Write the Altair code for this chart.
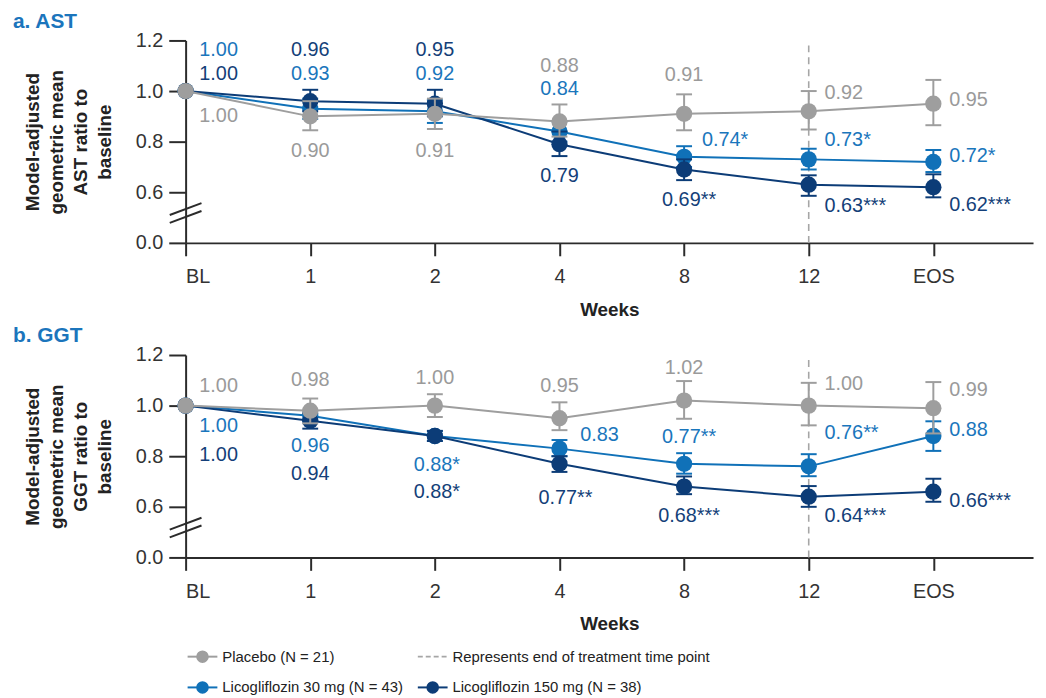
import altair as alt
import pandas as pd

FONT = "Liberation Sans, Arial, Helvetica, sans-serif"

week_labels = ["BL", "1", "2", "4", "8", "12", "EOS"]
series_keys = ["lico30", "lico150", "placebo"]          # drawing order (placebo on top)
series_colors = {"placebo": "#9e9e9e", "lico30": "#1071b8", "lico150": "#0c3c77"}
label_colors = {"placebo": "#9a9a9a", "lico30": "#1a76bc", "lico150": "#143f79"}

# ---------------- a. AST ----------------
ast_vals = {
    "placebo": [1.00, 0.90, 0.91, 0.88, 0.91, 0.92, 0.95],
    "lico30":  [1.00, 0.93, 0.92, 0.84, 0.74, 0.73, 0.72],
    "lico150": [1.00, 0.96, 0.95, 0.79, 0.69, 0.63, 0.62],
}
ast_lo = {
    "placebo": [None, 0.845, 0.85, 0.82, 0.845, 0.848, 0.865],
    "lico30":  [None, 0.89, 0.874, 0.80, 0.70, 0.69, 0.68],
    "lico150": [None, 0.92, 0.90, 0.743, 0.648, 0.586, 0.58],
}
ast_hi = {
    "placebo": [None, 0.96, 0.97, 0.947, 0.987, 1.0, 1.044],
    "lico30":  [None, 0.97, 0.965, 0.88, 0.782, 0.772, 0.767],
    "lico150": [None, 1.005, 1.005, 0.84, 0.73, 0.667, 0.671],
}
ast_text = {
    "placebo": ["1.00", "0.90", "0.91", "0.88", "0.91", "0.92", "0.95"],
    "lico30":  ["1.00", "0.93", "0.92", "0.84", "0.74*", "0.73*", "0.72*"],
    "lico150": ["1.00", "0.96", "0.95", "0.79", "0.69**", "0.63***", "0.62***"],
}

# ---------------- b. GGT ----------------
ggt_vals = {
    "placebo": [1.00, 0.98, 1.00, 0.95, 1.02, 1.00, 0.99],
    "lico30":  [1.00, 0.96, 0.88, 0.83, 0.77, 0.76, 0.88],
    "lico150": [1.00, 0.94, 0.88, 0.77, 0.68, 0.64, 0.66],
}
ggt_lo = {
    "placebo": [None, 0.93, 0.955, 0.903, 0.948, 0.922, 0.89],
    "lico30":  [None, 0.94, 0.86, 0.80, 0.731, 0.721, 0.821],
    "lico150": [None, 0.909, 0.86, 0.738, 0.65, 0.60, 0.62],
}
ggt_hi = {
    "placebo": [None, 1.028, 1.045, 1.013, 1.097, 1.09, 1.093],
    "lico30":  [None, 0.98, 0.90, 0.864, 0.812, 0.808, 0.938],
    "lico150": [None, 0.97, 0.90, 0.80, 0.72, 0.682, 0.711],
}
ggt_text = {
    "placebo": ["1.00", "0.98", "1.00", "0.95", "1.02", "1.00", "0.99"],
    "lico30":  ["1.00", "0.96", "0.88*", "0.83", "0.77**", "0.76**", "0.88"],
    "lico150": ["1.00", "0.94", "0.88*", "0.77**", "0.68***", "0.64***", "0.66***"],
}

legend_texts = ["Placebo (N = 21)", "Represents end of treatment time point",
                "Licogliflozin 30 mg (N = 43)", "Licogliflozin 150 mg (N = 38)"]

# ---------------- label placement (layout only) ----------------
# (label y in data units, x shift in week-index units, alignment)
L, C = "left", "center"
ast_place = {
    "placebo": [(0.90, 0.11, L), (0.763, 0, C), (0.763, 0, C), (1.10, 0, C), (1.065, 0, C), (0.994, 0.127, L), (0.963, 0.127, L)],
    "lico30":  [(1.163, 0.11, L), (1.069, 0, C), (1.069, 0, C), (1.006, 0, C), (0.806, 0.143, L), (0.806, 0.127, L), (0.743, 0.127, L)],
    "lico150": [(1.069, 0.11, L), (1.163, 0, C), (1.163, 0, C), (0.665, 0, C), (0.57, 0.04, C), (0.547, 0.127, L), (0.551, 0.127, L)],
}
ggt_place = {
    "placebo": [(1.078, 0.11, L), (1.10, 0, C), (1.11, 0, C), (1.078, 0, C), (1.147, 0, C), (1.087, 0.127, L), (1.061, 0.127, L)],
    "lico30":  [(0.918, 0.11, L), (0.84, 0, C), (0.764, 0.016, C), (0.883, 0.167, L), (0.874, 0.04, C), (0.892, 0.127, L), (0.905, 0.127, L)],
    "lico150": [(0.805, 0.11, L), (0.728, 0, C), (0.659, 0.016, C), (0.634, 0.048, C), (0.565, 0.04, C), (0.565, 0.127, L), (0.624, 0.127, L)],
}

EOT_INDEX = 5
eot_span = [0.4, 1.18]
break_lo = [0.510, 0.479]
break_hi = [0.557, 0.526]

x_label_expr = "[" + ",".join("'%s'" % w for w in week_labels) + "][datum.value]"
y_label_expr = "datum.value < 0.5 ? '0.0' : format(datum.value, '.1f')"


def build_df(vals, lo, hi, text, place):
    rows = []
    for key in series_keys:
        for i in range(len(week_labels)):
            ly, sx, al = place[key][i]
            rows.append(dict(idx=i, series=key, val=vals[key][i], lo=lo[key][i], hi=hi[key][i],
                             label=text[key][i], lx=i + sx, ly=ly, align=al))
    return pd.DataFrame(rows)


def make_panel(df, ytitle, title):
    x_axis = alt.Axis(values=list(range(7)), labelExpr=x_label_expr, title="Weeks",
                      tickSize=13, labelPadding=11, titlePadding=14)
    y_axis = alt.Axis(values=[0.4, 0.6, 0.8, 1.0, 1.2], labelExpr=y_label_expr, title=ytitle,
                      tickSize=17, labelPadding=6, titlePadding=21)
    xs = alt.Scale(domain=[0, 6.8], nice=False, zero=False)
    ys = alt.Scale(domain=[0.4, 1.2], nice=False, zero=False)

    def X(f):
        return alt.X(f + ":Q", scale=xs, axis=x_axis)

    def Y(f):
        return alt.Y(f + ":Q", scale=ys, axis=y_axis)

    layers = []
    eot = pd.DataFrame({"idx": [EOT_INDEX], "y1": [eot_span[0]], "y2": [eot_span[1]]})
    layers.append(alt.Chart(eot).mark_rule(color="#a6a6a6", strokeDash=[7, 5], strokeWidth=1.6)
                  .encode(x=X("idx"), y=Y("y1"), y2="y2:Q"))
    brk = pd.DataFrame({"b1": break_lo, "b2": break_hi})
    layers.append(alt.Chart(brk).mark_rule(color="#2b2b2b", strokeWidth=2)
                  .encode(x=alt.value(-16), x2=alt.value(16), y=Y("b1"), y2="b2:Q"))

    base = alt.Chart(df)
    for key in series_keys:
        col = series_colors[key]
        sb = base.transform_filter(alt.datum.series == key)
        layers.append(sb.mark_line(color=col, strokeWidth=2).encode(x=X("idx"), y=Y("val")))
        eb = sb.transform_filter("isValid(datum.lo)")
        layers.append(eb.mark_rule(color=col, strokeWidth=2).encode(x=X("idx"), y=Y("lo"), y2="hi:Q"))
        layers.append(eb.mark_rule(color=col, strokeWidth=2, xOffset=-8, x2Offset=8)
                      .encode(x=X("idx"), x2="idx:Q", y=Y("hi")))
        layers.append(eb.mark_rule(color=col, strokeWidth=2, xOffset=-8, x2Offset=8)
                      .encode(x=X("idx"), x2="idx:Q", y=Y("lo")))
        layers.append(sb.mark_point(filled=True, size=270, opacity=1, color=col)
                      .encode(x=X("idx"), y=Y("val")))
    for key in series_keys:
        for al in (L, C):
            layers.append(base.transform_filter((alt.datum.series == key) & (alt.datum.align == al))
                          .mark_text(align=al, baseline="middle", fontSize=20, font=FONT,
                                     color=label_colors[key])
                          .encode(x=X("lx"), y=Y("ly"), text="label:N"))

    return alt.layer(*layers).properties(
        width=854, height=204,
        title=alt.TitleParams(text=title, anchor="start", frame="group", dx=-174, offset=-1,
                              fontSize=21, font=FONT, fontWeight="bold", color="#1b75bc"),
    )


top = make_panel(build_df(ast_vals, ast_lo, ast_hi, ast_text, ast_place),
                 ["Model-adjusted", "geometric mean", "AST ratio to", "baseline"], "a. AST")
bottom = make_panel(build_df(ggt_vals, ggt_lo, ggt_hi, ggt_text, ggt_place),
                    ["Model-adjusted", "geometric mean", "GGT ratio to", "baseline"], "b. GGT")

# ---------------- custom legend ----------------
leg = pd.DataFrame({"text": legend_texts, "col": [0, 1, 0, 1], "row": [0, 0, 1, 1],
                    "kind": ["marker", "dash", "marker", "marker"]})
leg_colors = [series_colors["placebo"], "#a6a6a6", series_colors["lico30"], series_colors["lico150"]]
LX = alt.X("col:Q", scale=alt.Scale(domain=[0, 1], range=[17, 249]), axis=None)
LY = alt.Y("row:Q", scale=alt.Scale(domain=[0, 1], range=[0, 31]), axis=None)
LC = alt.Color("text:N", scale=alt.Scale(domain=legend_texts, range=leg_colors), legend=None)
lb = alt.Chart(leg)
legend = alt.layer(
    lb.transform_filter(alt.datum.kind == "marker").mark_rule(strokeWidth=2, xOffset=-15, x2Offset=15)
      .encode(x=LX, x2="col:Q", y=LY, color=LC),
    lb.transform_filter(alt.datum.kind == "dash").mark_rule(strokeWidth=1.6, strokeDash=[5, 3], xOffset=-15, x2Offset=15)
      .encode(x=LX, x2="col:Q", y=LY, color=LC),
    lb.transform_filter(alt.datum.kind == "marker").mark_point(filled=True, size=160, opacity=1)
      .encode(x=LX, y=LY, color=LC),
    lb.mark_text(align="left", baseline="middle", dx=20, fontSize=15, font=FONT, color="#222222")
      .encode(x=LX, y=LY, text="text:N"),
).properties(width=854, height=31)

chart = alt.vconcat(alt.vconcat(top, bottom, spacing=6), legend, spacing=16).properties(
    padding={"left": 5, "top": 0, "right": 5, "bottom": 5}
).configure(
    background="white"
).configure_view(
    stroke=None
).configure_axis(
    grid=False, domainColor="#2b2b2b", domainWidth=2, tickColor="#2b2b2b", tickWidth=2,
    labelFont=FONT, labelFontSize=20, labelColor="#333333",
    titleFont=FONT, titleFontSize=19, titleFontWeight="bold", titleColor="#222222", titleLineHeight=24,
)

chart.save("out.html", embed_options={"renderer": "svg", "actions": False})
